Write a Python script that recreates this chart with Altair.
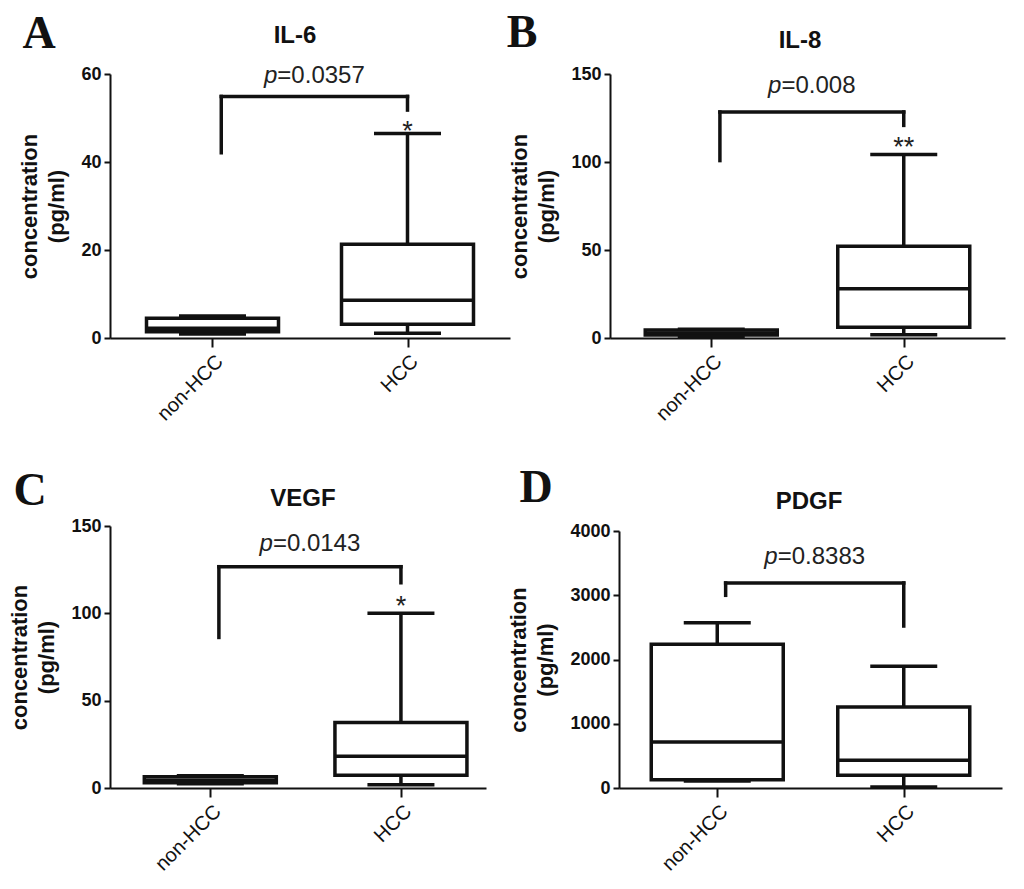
import altair as alt
import pandas as pd

INK = "#111111"

GROUPS = ["non-HCC", "HCC"]
GROUP_POS = [0.5, 1.5]

LETTERS = ["A", "B", "C", "D"]
MARKERS = ["IL-6", "IL-8", "VEGF", "PDGF"]

# min, q1, median, q3, max
IL6_NON = [0.9, 1.4, 2.2, 4.5, 5.0]
IL6_HCC = [1.1, 3.1, 8.6, 21.3, 46.5]
IL8_NON = [1.0, 1.7, 2.8, 4.6, 5.0]
IL8_HCC = [1.9, 6.1, 28.0, 52.1, 104.2]
VEGF_NON = [2.5, 3.0, 4.5, 6.5, 7.0]
VEGF_HCC = [1.9, 7.3, 18.2, 37.5, 100.1]
PDGF_NON = [109, 130, 716, 2236, 2573]
PDGF_HCC = [16, 197, 431, 1261, 1894]

P_VALUES = ["0.0357", "0.008", "0.0143", "0.8383"]
STARS = ["*", "**", "*", ""]
# bracket: left leg bottom, top bar, right leg bottom
BRACKETS = [[42.1, 54.9, 51.8], [100.8, 128.4, 120.8], [86.2, 126.7, 117.5], [2999, 3191, 2521]]
STAR_Y = [48.4, 111.7, 107.6, None]
P_Y = [59.5, 143.0, 139.7, 3595]
Y_MAX = [60, 150, 150, 4000]
Y_STEP = [20, 50, 50, 1000]

# layout per panel: plot width, height, gap above the axis top, x domain end,
# letter offset, title offset
WIDTHS = [400, 395, 376, 383]
HEIGHTS = [264, 264, 262, 262]
TOP_GAP = [0, 0, 0, 5]
X_END = [2.0, 2.0, 1.92, 2.0]
LETTER_XY = [(-71, -40), (-88, -41), (-80, -35), (-83, -38)]
TITLE_XY = [(185, -38), (190, -33), (193, -27), (190, -24)]

CHAR_W = {"p": 0.556, "=": 0.584, ".": 0.278}
LW = 3.5


def text_em(s):
    return sum(CHAR_W.get(c, 0.556) for c in s)


def panel(i, non, hcc):
    xs = alt.Scale(domain=[0, X_END[i]], nice=False, zero=False)
    ys = alt.Scale(domain=[0, Y_MAX[i]], nice=False, range=[HEIGHTS[i], TOP_GAP[i]])
    x_axis = alt.Axis(
        values=GROUP_POS, labelExpr="datum.value < 1 ? 'non-HCC' : 'HCC'",
        labelAngle=-45, labelFontSize=20, labelPadding=4, tickSize=9,
        grid=False, title=None,
    )
    y_axis = alt.Axis(
        values=list(range(0, Y_MAX[i] + 1, Y_STEP[i])), format="d", grid=False,
        labelFontSize=18, labelFontWeight="bold", labelPadding=3, tickSize=6,
        title=["concentration", "(pg/ml)"], titleFontSize=22, titleFontWeight="bold",
        titleLineHeight=27, titlePadding=12,
    )

    def X(f):
        return alt.X(f + ":Q", scale=xs, axis=x_axis)

    def Y(f):
        return alt.Y(f + ":Q", scale=ys, axis=y_axis)

    df = pd.DataFrame({
        "group": GROUPS, "pos": GROUP_POS,
        "lo": [non[0], hcc[0]], "q1": [non[1], hcc[1]], "med": [non[2], hcc[2]],
        "q3": [non[3], hcc[3]], "hi": [non[4], hcc[4]],
    })
    base = alt.Chart(df)
    whisker = base.mark_rule(color=INK, strokeWidth=LW).encode(x=X("pos"), y=Y("lo"), y2="hi")
    box = base.mark_bar(fill="white", stroke=INK, strokeWidth=LW, size=132).encode(
        x=X("pos"), y=Y("q1"), y2="q3")
    med = base.mark_tick(orient="horizontal", size=132, thickness=LW, color=INK, opacity=1).encode(
        x=X("pos"), y=Y("med"))
    cap_lo = base.mark_tick(orient="horizontal", size=67, thickness=LW, color=INK, opacity=1).encode(
        x=X("pos"), y=Y("lo"))
    cap_hi = base.mark_tick(orient="horizontal", size=67, thickness=LW, color=INK, opacity=1).encode(
        x=X("pos"), y=Y("hi"))

    lb, top, rb = BRACKETS[i]
    left = GROUP_POS[0] + 0.045
    right = GROUP_POS[1]
    seg = pd.DataFrame({
        "x": [left, left, right], "x2": [left, right, right],
        "y": [lb, top, top], "y2": [top, top, rb],
    })
    bracket = alt.Chart(seg).mark_rule(color=INK, strokeWidth=LW, strokeCap="square").encode(
        x=X("x"), x2="x2", y=Y("y"), y2="y2")

    mid = (left + right) / 2
    fs = 24
    anchor = (CHAR_W["p"] - text_em("p=" + P_VALUES[i]) / 2) * fs
    pdf = pd.DataFrame({"x": [mid], "y": [P_Y[i]], "p": ["p"], "v": ["=" + P_VALUES[i]]})
    p_it = alt.Chart(pdf).mark_text(
        font="Liberation Sans", fontStyle="italic", fontSize=fs, align="right",
        baseline="middle", dx=anchor, color="#222222").encode(x=X("x"), y=Y("y"), text="p:N")
    p_val = alt.Chart(pdf).mark_text(
        font="Liberation Sans", fontSize=fs, align="left",
        baseline="middle", dx=anchor, color="#222222").encode(x=X("x"), y=Y("y"), text="v:N")

    layers = [whisker, box, med, cap_lo, cap_hi, bracket, p_it, p_val]

    if STARS[i]:
        sdf = pd.DataFrame({"x": [GROUP_POS[1]], "y": [STAR_Y[i]], "s": [STARS[i]]})
        layers.append(alt.Chart(sdf).mark_text(
            font="Liberation Sans", fontSize=27, baseline="middle", dy=7, color="#222222").encode(
            x=X("x"), y=Y("y"), text="s:N"))

    tdf = pd.DataFrame({"letter": [LETTERS[i]], "title": [MARKERS[i]]})
    layers.append(alt.Chart(tdf).mark_text(
        font="Liberation Serif", fontWeight="bold", fontSize=46, baseline="middle", color=INK).encode(
        x=alt.value(LETTER_XY[i][0]), y=alt.value(LETTER_XY[i][1]), text="letter:N"))
    layers.append(alt.Chart(tdf).mark_text(
        font="Liberation Sans", fontWeight="bold", fontSize=24, baseline="middle", color=INK).encode(
        x=alt.value(TITLE_XY[i][0]), y=alt.value(TITLE_XY[i][1]), text="title:N"))

    return alt.layer(*layers).properties(width=WIDTHS[i], height=HEIGHTS[i])


pA = panel(0, IL6_NON, IL6_HCC)
pB = panel(1, IL8_NON, IL8_HCC)
pC = panel(2, VEGF_NON, VEGF_HCC)
pD = panel(3, PDGF_NON, PDGF_HCC)

chart = (
    alt.vconcat(
        alt.hconcat(pA, pB, spacing=100, bounds="flush"),
        alt.hconcat(pC, pD, spacing=133, bounds="flush"),
        spacing=452, bounds="flush",
    )
    .properties(padding={"left": 0, "top": 2, "right": 5, "bottom": 5})
    .configure_view(stroke=None)
    .configure_axis(
        domainColor=INK, domainWidth=2, tickColor=INK, tickWidth=2,
        labelColor=INK, titleColor=INK, labelFont="Liberation Sans", titleFont="Liberation Sans",
    )
)

chart.save("out.html", embed_options={"renderer": "svg", "actions": False})
